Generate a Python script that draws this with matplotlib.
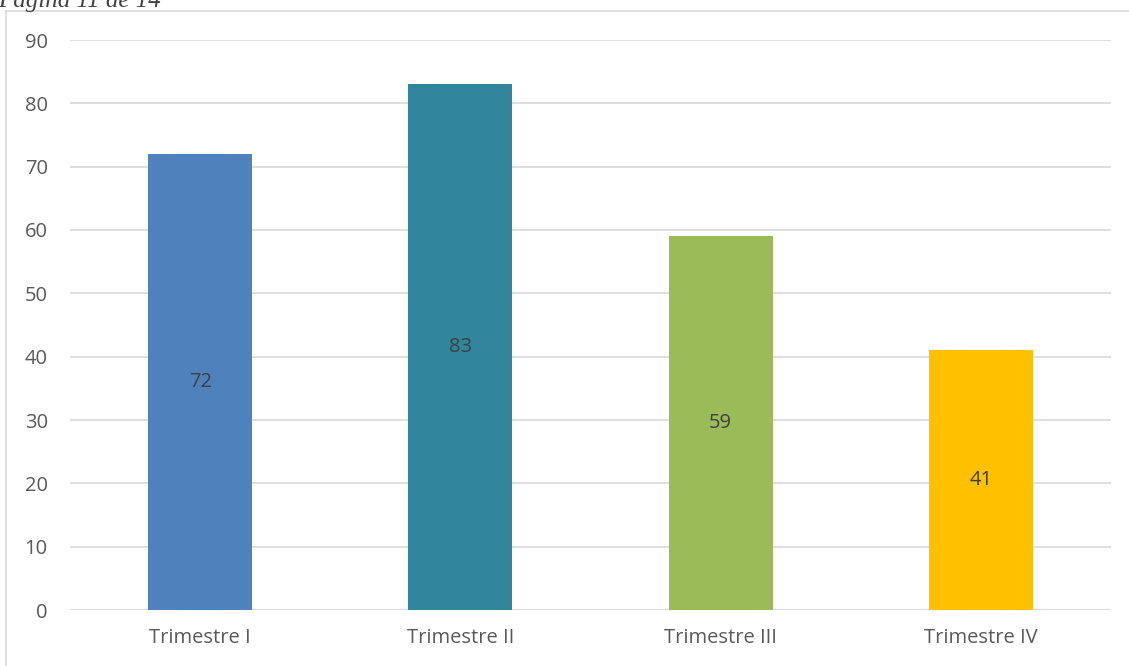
import matplotlib
matplotlib.use("Agg")
import matplotlib.pyplot as plt
from matplotlib.lines import Line2D

categories = ["Trimestre I", "Trimestre II", "Trimestre III", "Trimestre IV"]
values = [72, 83, 59, 41]
colors = ["#4F81BD", "#31859C", "#9BBB59", "#FFC000"]
yticks = [0, 10, 20, 30, 40, 50, 60, 70, 80, 90]

W, H = 1129, 666
fig = plt.figure(figsize=(W / 100, H / 100), dpi=100)
ax = fig.add_axes([70 / W, (H - 610) / H, (1111 - 70) / W, 570 / H])

x = range(len(categories))
bars = ax.bar(x, values, width=0.4, color=colors, zorder=3)
for xi, v in zip(x, values):
    ax.text(xi, v / 2, str(v), ha="center", va="center", fontsize=14.5,
            color="#404040", family="Open Sans", zorder=4)

ax.set_xlim(-0.5, len(categories) - 0.5)
ax.set_ylim(0, 90)
ax.set_yticks(yticks)
ax.set_xticks(list(x))
ax.set_xticklabels(categories)
ax.grid(axis="y", color="#D9D9D9", linewidth=1.2, zorder=0)
for s in ax.spines.values():
    s.set_visible(False)
ax.tick_params(axis="both", length=0, labelsize=14.5, labelcolor="#595959")
ax.tick_params(axis="y", pad=16)
ax.tick_params(axis="x", pad=13)
for lab in ax.get_xticklabels() + ax.get_yticklabels():
    lab.set_family("Open Sans")

# axis baseline
ax.axhline(0, color="#D9D9D9", linewidth=1.2, zorder=2)

# chart border (partially visible)
fig.add_artist(Line2D([5.5 / W, 5.5 / W], [0, (H - 11) / H], transform=fig.transFigure,
                      color="#D9D9D9", linewidth=1.2))
fig.add_artist(Line2D([5.5 / W, 1], [(H - 11) / H, (H - 11) / H], transform=fig.transFigure,
                      color="#D9D9D9", linewidth=1.2))

# page header (cut off at top, as in the source page)
fig.text(-0.002, (H - 7) / H, "Página 11 de 14", family="Liberation Serif", style="italic",
         fontsize=18, color="#404040", ha="left", va="baseline")

fig.savefig("out.png", dpi=100)
